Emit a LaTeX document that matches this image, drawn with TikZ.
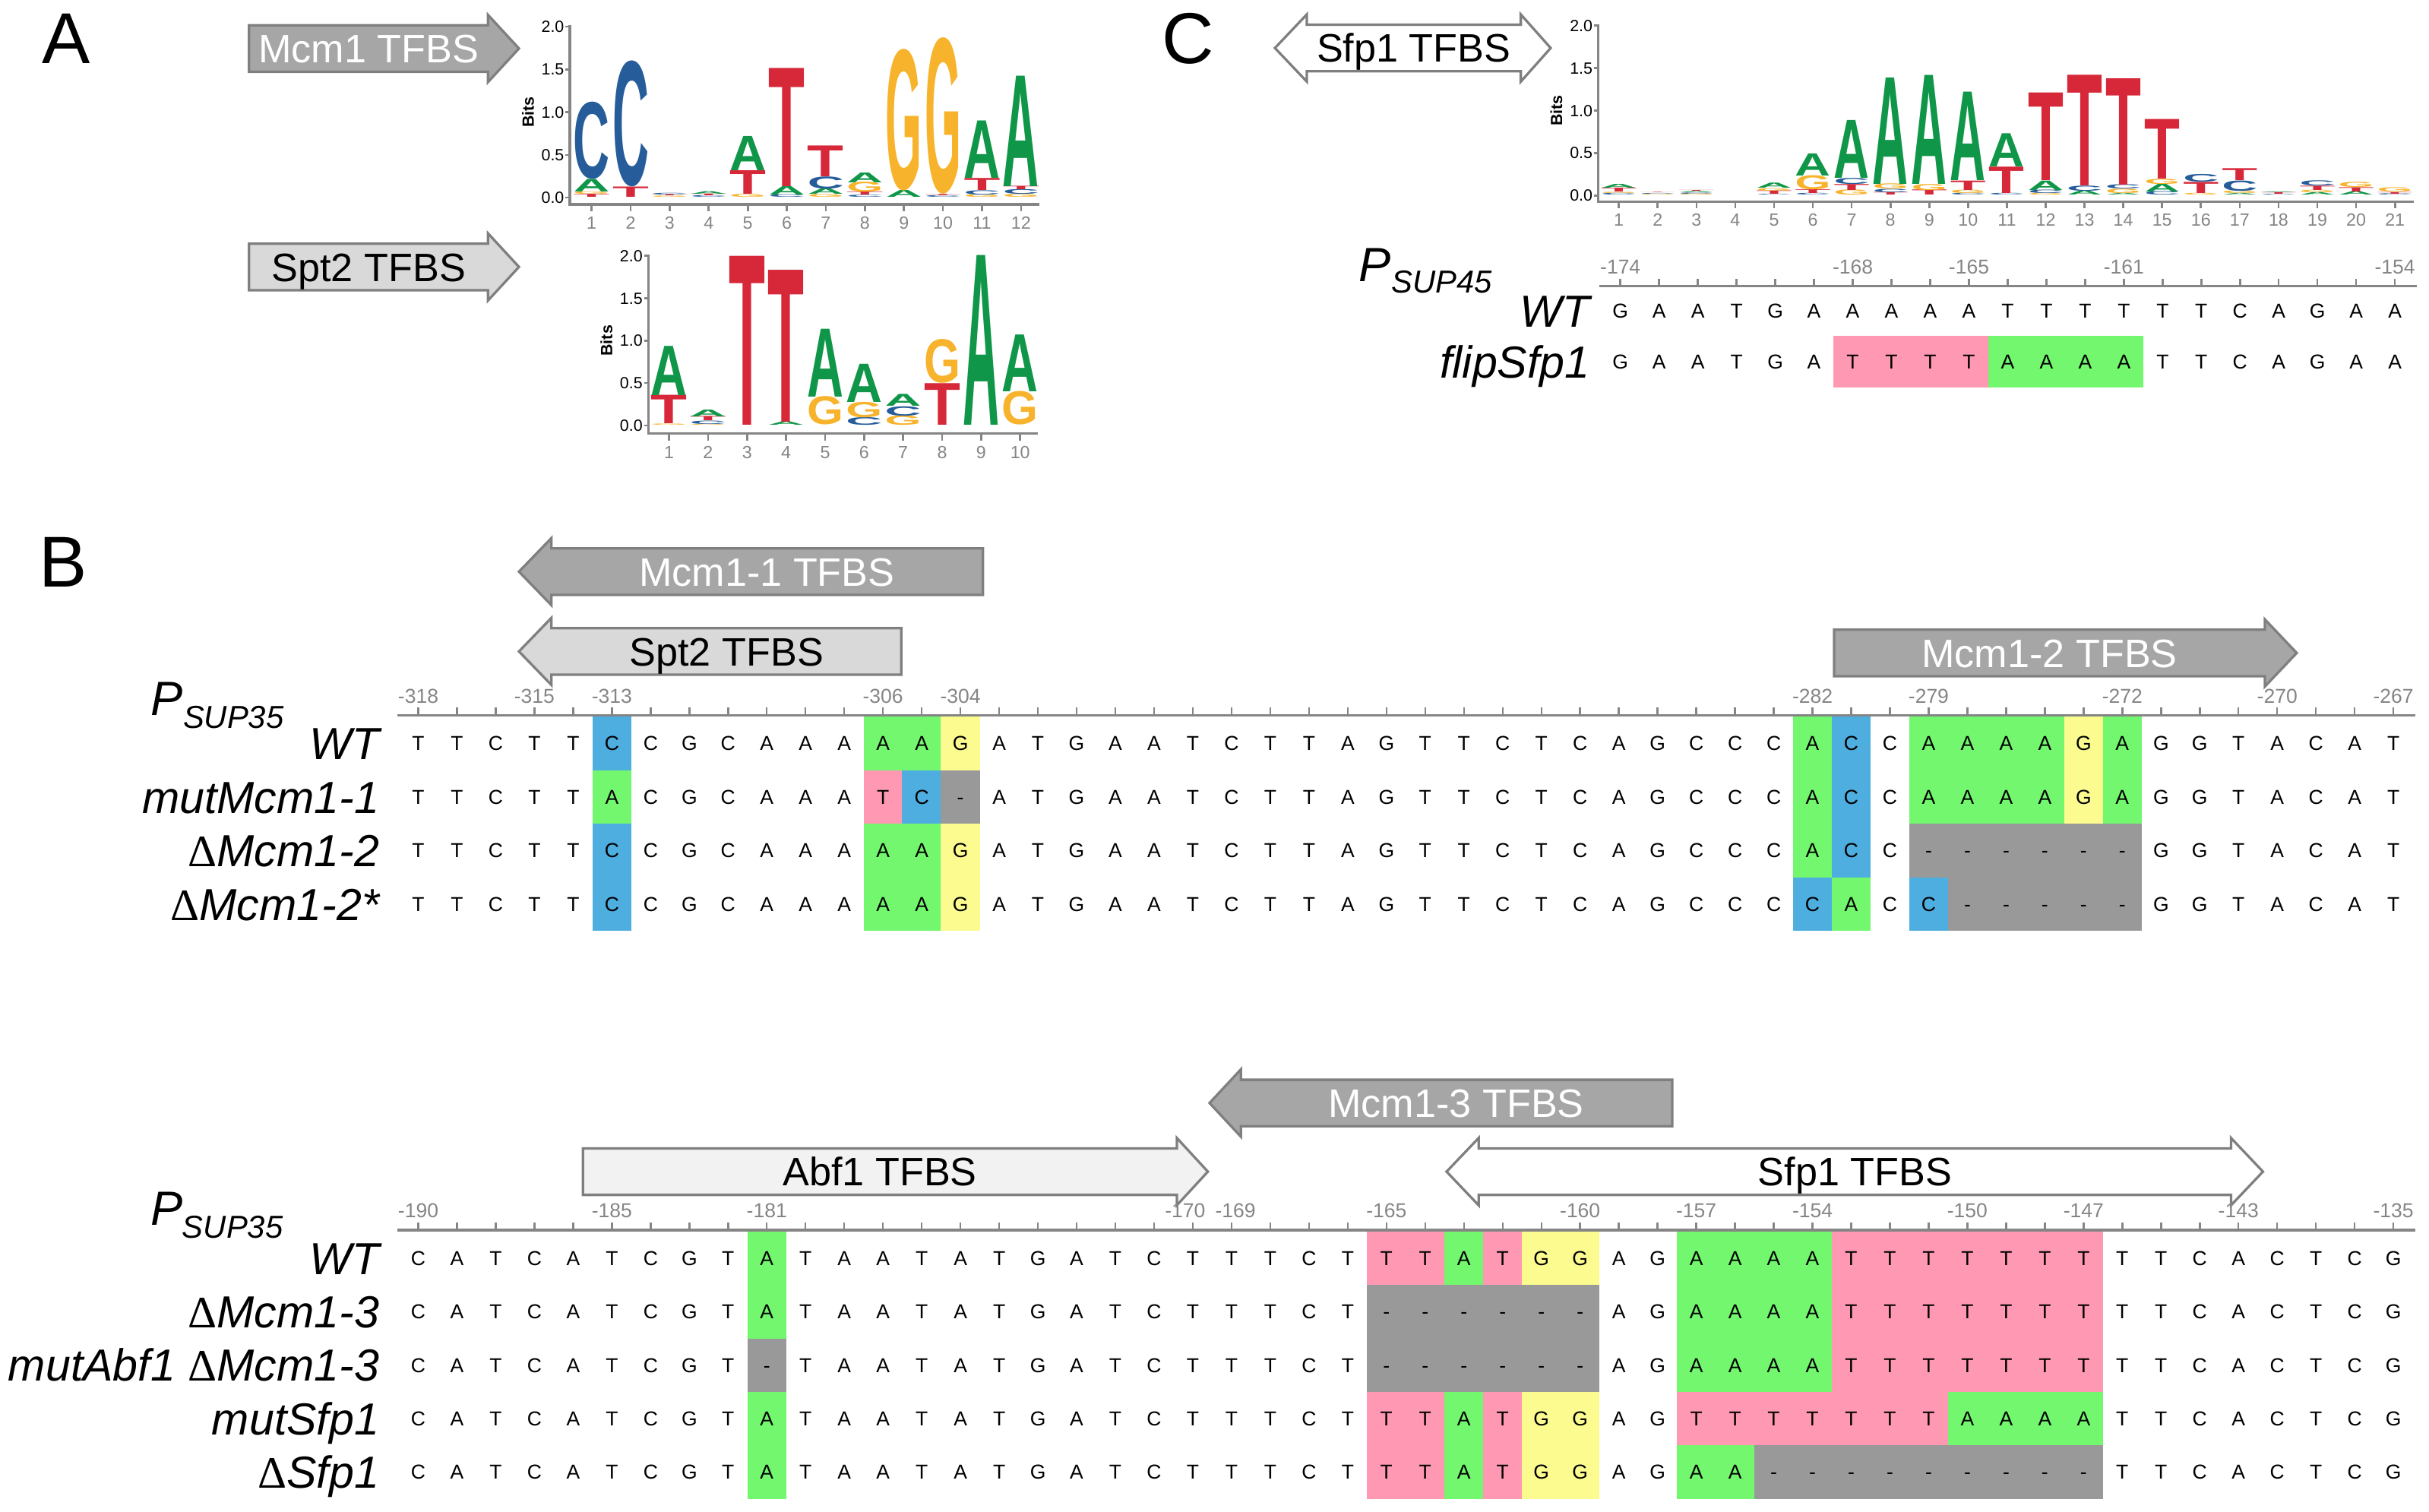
\documentclass[tikz,border=0pt]{standalone}
\usepackage{fontspec}
\setmainfont{Liberation Sans}
\newfontfamily\serifdelta{Liberation Serif}
\usepackage{graphicx}
\definecolor{lA}{HTML}{109648}
\definecolor{lC}{HTML}{255C99}
\definecolor{lG}{HTML}{F7B32B}
\definecolor{lT}{HTML}{D62839}
\definecolor{hg}{HTML}{72F76E}
\definecolor{hb}{HTML}{4FAEE0}
\definecolor{hy}{HTML}{FBFB8F}
\definecolor{hp}{HTML}{FF99B3}
\definecolor{hd}{HTML}{999999}
\definecolor{bdr}{HTML}{7F7F7F}
\definecolor{fdark}{HTML}{A6A6A6}
\definecolor{flight}{HTML}{D9D9D9}
\definecolor{fpale}{HTML}{F2F2F2}
\definecolor{rul}{HTML}{858585}
\tikzset{
 seq/.style={inner sep=0, font=\fontsize{13}{13}\selectfont, text height=9.3pt, text depth=0pt, anchor=center},
 ticklab/.style={inner sep=0, font=\fontsize{13}{13}\selectfont, text=rul, text height=9.3pt, text depth=0pt, anchor=center},
 rowlab/.style={inner sep=0, font=\fontsize{29}{29}\selectfont\itshape, anchor=base east},
 rulerline/.style={draw=rul, line width=1.6pt},
 rulertick/.style={draw=rul, line width=1.2pt},
 tfbs/.style={draw=bdr, line width=1.6pt, line join=miter},
 tfbstext/.style={inner sep=0, font=\fontsize{25.6}{25.6}\selectfont, anchor=base},
 panel/.style={inner sep=0, font=\fontsize{46.5}{46.5}\selectfont, anchor=base west},
 axisline/.style={draw=rul, line width=1.6pt},
 axistick/.style={draw=rul, line width=1.3pt},
 axnum/.style={inner sep=0, font=\fontsize{11.4}{11.4}\selectfont, text=rul, text height=8.2pt, text depth=0pt, anchor=center},
 bitnum/.style={inner sep=0, font=\fontsize{10.5}{10.5}\selectfont, text height=7.5pt, text depth=0pt, anchor=east},
 bitslab/.style={inner sep=0, font=\bfseries\fontsize{10.5}{10.5}\selectfont, rotate=90},
 plab/.style={inner sep=0, font=\fontsize{31}{31}\selectfont\itshape, anchor=base west},
 psub/.style={inner sep=0, font=\fontsize{20.5}{20.5}\selectfont\itshape, anchor=base west},
}
% sequence row: x0, y, list
\newcommand\seqrow[3]{\foreach \s [count=\i from 0] in {#3} {\node[seq] at (#1+25*\i,#2) {\s};}}
% highlight: colour, x0, ytop, ybot, from, to
\newcommand\hl[6]{\fill[#1] (#2+25*#5-12.6,#3) rectangle (#2+25*#6+12.6,#4);}
% ruler: x0, y, last index, labels i/text
\newcommand\ruler[4]{%
 \draw[rulerline] (#1-13.5,#2) -- (#1+25*#3+14,#2);
 \foreach \i in {0,...,#3} {\draw[rulertick] (#1+25*\i,#2) -- (#1+25*\i,#2-5);}
 \foreach \i/\lab in {#4} {\node[ticklab] at (#1+25*\i,#2-12.5) {\lab};}}
% single arrow: fill, x base, x inner, x tip, y centre
\newcommand\tfarrow[5]{\draw[tfbs, fill=#1] (#2,#5-15) -- (#3,#5-15) -- (#3,#5-21.7) -- (#4,#5) -- (#3,#5+21.7) -- (#3,#5+15) -- (#2,#5+15) -- cycle;}
% double arrow: fill, ltip, linner, rinner, rtip, y centre
\newcommand\dblarrow[6]{\draw[tfbs, fill=#1] (#2,#6) -- (#3,#6-21.7) -- (#3,#6-15) -- (#4,#6-15) -- (#4,#6-21.7) -- (#5,#6) -- (#4,#6+21.7) -- (#4,#6+15) -- (#3,#6+15) -- (#3,#6+21.7) -- cycle;}
% logo letters: x of pos1, spacing, y of 0 bits, px per bit, width, list p/L/a/b
\newcommand\logo[6]{\foreach \p/\L/\a/\b in {#6} {%
   \pgfmathsetmacro\lx{#1+#2*(\p-1)}%
   \pgfmathsetmacro\ly{#3-#4*\a}%
   \pgfmathsetmacro\lh{#4*(\b-\a)}%
   \node[inner sep=0, anchor=south, text=l\L] at (\lx,\ly) {\resizebox{#5pt}{\lh pt}{\bfseries\L}};}}
% logo axes: y-axis x, y of 0 bits, px per bit, x-axis y, x of pos1, spacing, n, x end
\newcommand\logoaxes[8]{%
 \draw[axisline] (#1,#2-2*#3-0.8) -- (#1,#4) -- (#8,#4);
 \foreach \v/\lab in {0/0.0,0.5/0.5,1/1.0,1.5/1.5,2/2.0} {%
   \draw[axistick] (#1,#2-\v*#3) -- (#1-2.8,#2-\v*#3);
   \node[bitnum] at (#1-3.5,#2-\v*#3) {\lab};}
 \node[bitslab] at (#1-27,#2-#3) {Bits};
 \foreach \k in {1,...,#7} {%
   \draw[axistick] (#5+#6*\k-#6,#4) -- (#5+#6*\k-#6,#4+4.5);
   \node[axnum] at (#5+#6*\k-#6,#4+11.8) {\k};}}
\begin{document}
\begin{tikzpicture}[x=1pt,y=-1pt]
\useasboundingbox (0,0) rectangle (1568,976);

% ---------------- panel labels
\node[panel] (labA) at (27,41) {A};
\node[panel] (labB) at (25,379) {B};
\node[panel] (labC) at (750,41) {C};

% ---------------- panel A
\tfarrow{fdark}{160.7}{315}{335}{31.3}
\node[tfbstext, text=white] (tA1) at (238,40.5) {Mcm1 TFBS};
\tfarrow{flight}{160.7}{315}{335}{172.3}
\node[tfbstext] (tA2) at (238,181.5) {Spt2 TFBS};

\logoaxes{367.8}{127.6}{55.25}{131.9}{381.9}{25.2}{12}{671}
\logo{381.9}{25.2}{127.6}{55.25}{23.5}{1/T/0/0.035, 1/G/0.035/0.063, 1/A/0.063/0.21, 1/C/0.21/1.1,
2/T/0/0.12, 2/C/0.12/1.57,
3/G/0/0.015, 3/T/0.015/0.03, 3/C/0.03/0.05,
4/C/0/0.02, 4/T/0.02/0.04, 4/A/0.04/0.07,
5/G/0/0.035, 5/T/0.035/0.31, 5/A/0.31/0.71,
6/C/0/0.03, 6/A/0.03/0.13, 6/T/0.13/1.51,
7/G/0/0.035, 7/A/0.035/0.1, 7/C/0.1/0.24, 7/T/0.24/0.6,
8/C/0/0.025, 8/T/0.025/0.06, 8/G/0.06/0.175, 8/A/0.175/0.29,
9/A/0/0.08, 9/G/0.08/1.71,
10/C/0/0.02, 10/T/0.02/0.035, 10/G/0.035/1.835,
11/G/0/0.03, 11/C/0.03/0.08, 11/T/0.08/0.22, 11/A/0.22/0.89,
12/G/0/0.035, 12/C/0.035/0.09, 12/T/0.09/0.13, 12/A/0.13/1.42}

\logoaxes{418.5}{274.6}{54.75}{279.9}{431.9}{25.18}{10}{670}
\logo{431.9}{25.18}{274.6}{54.75}{23.5}{1/G/0/0.015, 1/T/0.015/0.35, 1/A/0.35/0.93,
2/G/0/0.01, 2/C/0.01/0.05, 2/T/0.05/0.10, 2/A/0.10/0.18,
3/T/0/1.99,
4/A/0/0.04, 4/T/0.04/1.83,
5/G/0/0.33, 5/A/0.33/1.13,
6/C/0/0.09, 6/G/0.09/0.27, 6/A/0.27/0.72,
7/G/0/0.11, 7/C/0.11/0.22, 7/A/0.22/0.36,
8/T/0/0.49, 8/G/0.49/1.0,
9/A/0/2.0,
10/G/0/0.39, 10/A/0.39/1.06}

% ---------------- panel C
\dblarrow{white}{823}{843.6}{981.7}{1001}{31}
\node[tfbstext] (tC1) at (912.6,40.2) {Sfp1 TFBS};

\logoaxes{1031.7}{126.2}{54.9}{130.1}{1045}{25.05}{21}{1558}
\logo{1045}{25.05}{126.2}{54.9}{23}{1/C/0/0.02, 1/G/0.02/0.035, 1/T/0.035/0.08, 1/A/0.08/0.125,
2/G/0/0.01, 2/C/0.01/0.02, 2/T/0.02/0.025,
3/G/0/0.015, 3/C/0.015/0.03, 3/A/0.03/0.045, 3/T/0.045/0.055,
5/C/0/0.01, 5/T/0.01/0.05, 5/G/0.05/0.08, 5/A/0.08/0.14,
6/C/0/0.02, 6/T/0.02/0.065, 6/G/0.065/0.23, 6/A/0.23/0.49,
7/G/0/0.06, 7/T/0.06/0.13, 7/C/0.13/0.2, 7/A/0.2/0.88,
8/T/0/0.03, 8/C/0.03/0.07, 8/G/0.07/0.13, 8/A/0.13/1.38,
9/T/0/0.06, 9/G/0.06/0.13, 9/A/0.13/1.41,
10/C/0/0.02, 10/G/0.02/0.06, 10/T/0.06/0.17, 10/A/0.17/1.21,
11/C/0/0.02, 11/T/0.02/0.33, 11/A/0.33/0.72,
12/G/0/0.02, 12/C/0.02/0.06, 12/A/0.06/0.17, 12/T/0.17/1.2,
13/A/0/0.05, 13/C/0.05/0.11, 13/T/0.11/1.41,
14/A/0/0.02, 14/G/0.02/0.07, 14/C/0.07/0.12, 14/T/0.12/1.37,
15/C/0/0.04, 15/A/0.04/0.13, 15/G/0.13/0.19, 15/T/0.19/0.89,
16/G/0/0.02, 16/T/0.02/0.15, 16/C/0.15/0.24,
17/A/0/0.02, 17/G/0.02/0.05, 17/C/0.05/0.17, 17/T/0.17/0.31,
18/C/0/0.01, 18/T/0.01/0.03, 18/A/0.03/0.04,
19/A/0/0.03, 19/G/0.03/0.06, 19/T/0.06/0.11, 19/C/0.11/0.17,
20/A/0/0.04, 20/T/0.04/0.09, 20/G/0.09/0.15,
21/C/0/0.015, 21/T/0.015/0.035, 21/G/0.035/0.085}

\node[plab] (pC) at (877,181.5) {P};
\node[psub] (pCs) at (898,189) {SUP45};
\hl{hp}{1046}{217}{250}{6}{9}
\hl{hg}{1046}{217}{250}{10}{13}
\ruler{1046}{184.8}{20}{0/-174,6/-168,9/-165,13/-161,20/-154}
\node[rowlab] (rC1) at (1026.5,211.2) {WT};
\node[rowlab] (rC2) at (1026.5,243.9) {flipSfp1};
\seqrow{1046}{200.75}{G,A,A,T,G,A,A,A,A,A,T,T,T,T,T,T,C,A,G,A,A}
\seqrow{1046}{233.5}{G,A,A,T,G,A,T,T,T,T,A,A,A,A,T,T,C,A,G,A,A}

% ---------------- panel B top
\tfarrow{fdark}{634.5}{356}{335}{369}
\node[tfbstext, text=white] (tB1) at (495,378.2) {Mcm1-1 TFBS};
\tfarrow{flight}{581.8}{356}{335}{420.5}
\node[tfbstext] (tB2) at (469,429.7) {Spt2 TFBS};
\tfarrow{fdark}{1184}{1462}{1482.6}{421.5}
\node[tfbstext, text=white] (tB3) at (1323,430.7) {Mcm1-2 TFBS};

\node[plab] (pB1) at (97,462) {P};
\node[psub] (pB1s) at (118,470.3) {SUP35};

% highlights (row tops 462.5 + 34.6k)
\hl{hb}{270}{462.5}{497.1}{5}{5}
\hl{hg}{270}{462.5}{497.1}{12}{13}
\hl{hy}{270}{462.5}{497.1}{14}{14}
\hl{hg}{270}{462.5}{497.1}{36}{36}
\hl{hb}{270}{462.5}{497.1}{37}{37}
\hl{hg}{270}{462.5}{497.1}{39}{42}
\hl{hy}{270}{462.5}{497.1}{43}{43}
\hl{hg}{270}{462.5}{497.1}{44}{44}
\hl{hg}{270}{497.1}{531.7}{5}{5}
\hl{hp}{270}{497.1}{531.7}{12}{12}
\hl{hb}{270}{497.1}{531.7}{13}{13}
\hl{hd}{270}{497.1}{531.7}{14}{14}
\hl{hg}{270}{497.1}{531.7}{36}{36}
\hl{hb}{270}{497.1}{531.7}{37}{37}
\hl{hg}{270}{497.1}{531.7}{39}{42}
\hl{hy}{270}{497.1}{531.7}{43}{43}
\hl{hg}{270}{497.1}{531.7}{44}{44}
\hl{hb}{270}{531.7}{566.3}{5}{5}
\hl{hg}{270}{531.7}{566.3}{12}{13}
\hl{hy}{270}{531.7}{566.3}{14}{14}
\hl{hg}{270}{531.7}{566.3}{36}{36}
\hl{hb}{270}{531.7}{566.3}{37}{37}
\hl{hd}{270}{531.7}{566.3}{39}{44}
\hl{hb}{270}{566.3}{600.9}{5}{5}
\hl{hg}{270}{566.3}{600.9}{12}{13}
\hl{hy}{270}{566.3}{600.9}{14}{14}
\hl{hb}{270}{566.3}{600.9}{36}{36}
\hl{hg}{270}{566.3}{600.9}{37}{37}
\hl{hb}{270}{566.3}{600.9}{39}{39}
\hl{hd}{270}{566.3}{600.9}{40}{44}

\ruler{270}{461.8}{51}{0/-318,3/-315,5/-313,12/-306,14/-304,36/-282,39/-279,44/-272,48/-270,51/-267}

\node[rowlab] (rB1) at (245,490.2) {WT};
\node[rowlab] (rB2) at (245,524.8) {mutMcm1-1};
\node[rowlab] (rB3) at (245,559.4) {{\serifdelta\upshape Δ}Mcm1-2};
\node[rowlab] (rB4) at (245,594) {{\serifdelta\upshape Δ}Mcm1-2*};

\seqrow{270}{479.8}{T,T,C,T,T,C,C,G,C,A,A,A,A,A,G,A,T,G,A,A,T,C,T,T,A,G,T,T,C,T,C,A,G,C,C,C,A,C,C,A,A,A,A,G,A,G,G,T,A,C,A,T}
\seqrow{270}{514.4}{T,T,C,T,T,A,C,G,C,A,A,A,T,C,-,A,T,G,A,A,T,C,T,T,A,G,T,T,C,T,C,A,G,C,C,C,A,C,C,A,A,A,A,G,A,G,G,T,A,C,A,T}
\seqrow{270}{549}{T,T,C,T,T,C,C,G,C,A,A,A,A,A,G,A,T,G,A,A,T,C,T,T,A,G,T,T,C,T,C,A,G,C,C,C,A,C,C,-,-,-,-,-,-,G,G,T,A,C,A,T}
\seqrow{270}{583.6}{T,T,C,T,T,C,C,G,C,A,A,A,A,A,G,A,T,G,A,A,T,C,T,T,A,G,T,T,C,T,C,A,G,C,C,C,C,A,C,C,-,-,-,-,-,G,G,T,A,C,A,T}

% ---------------- panel B bottom
\tfarrow{fdark}{1079.5}{801}{780.8}{712}
\node[tfbstext, text=white] (tB4) at (940,721.2) {Mcm1-3 TFBS};
\tfarrow{fpale}{376.3}{759.7}{779.7}{756.3}
\node[tfbstext] (tB5) at (568,765.5) {Abf1 TFBS};
\dblarrow{white}{933.8}{954.5}{1440.2}{1460.8}{756.3}
\node[tfbstext] (tB6) at (1197.4,765.5) {Sfp1 TFBS};

\node[plab] (pB2) at (97,790.7) {P};
\node[psub] (pB2s) at (117.5,799) {SUP35};

% rows: tops 795 + 34.5k
\hl{hg}{270}{795}{829.5}{9}{9}
\hl{hp}{270}{795}{829.5}{25}{26}
\hl{hg}{270}{795}{829.5}{27}{27}
\hl{hp}{270}{795}{829.5}{28}{28}
\hl{hy}{270}{795}{829.5}{29}{30}
\hl{hg}{270}{795}{829.5}{33}{36}
\hl{hp}{270}{795}{829.5}{37}{43}
\hl{hg}{270}{829.5}{864}{9}{9}
\hl{hd}{270}{829.5}{864}{25}{30}
\hl{hg}{270}{829.5}{864}{33}{36}
\hl{hp}{270}{829.5}{864}{37}{43}
\hl{hd}{270}{864}{898.5}{9}{9}
\hl{hd}{270}{864}{898.5}{25}{30}
\hl{hg}{270}{864}{898.5}{33}{36}
\hl{hp}{270}{864}{898.5}{37}{43}
\hl{hg}{270}{898.5}{933}{9}{9}
\hl{hp}{270}{898.5}{933}{25}{26}
\hl{hg}{270}{898.5}{933}{27}{27}
\hl{hp}{270}{898.5}{933}{28}{28}
\hl{hy}{270}{898.5}{933}{29}{30}
\hl{hp}{270}{898.5}{933}{33}{39}
\hl{hg}{270}{898.5}{933}{40}{43}
\hl{hg}{270}{933}{967.5}{9}{9}
\hl{hp}{270}{933}{967.5}{25}{26}
\hl{hg}{270}{933}{967.5}{27}{27}
\hl{hp}{270}{933}{967.5}{28}{28}
\hl{hy}{270}{933}{967.5}{29}{30}
\hl{hg}{270}{933}{967.5}{33}{34}
\hl{hd}{270}{933}{967.5}{35}{43}

\ruler{270}{794}{51}{0/-190,5/-185,9/-181,19.8/-170,21.1/-169,25/-165,30/-160,33/-157,36/-154,40/-150,43/-147,47/-143,51/-135}

\node[rowlab] (rB5) at (245,822.6) {WT};
\node[rowlab] (rB6) at (245,857.1) {{\serifdelta\upshape Δ}Mcm1-3};
\node[rowlab] (rB7) at (245,891.6) {mutAbf1 {\serifdelta\upshape Δ}Mcm1-3};
\node[rowlab] (rB8) at (245,926.1) {mutSfp1};
\node[rowlab] (rB9) at (245,960.6) {{\serifdelta\upshape Δ}Sfp1};

\seqrow{270}{812.25}{C,A,T,C,A,T,C,G,T,A,T,A,A,T,A,T,G,A,T,C,T,T,T,C,T,T,T,A,T,G,G,A,G,A,A,A,A,T,T,T,T,T,T,T,T,T,C,A,C,T,C,G}
\seqrow{270}{846.75}{C,A,T,C,A,T,C,G,T,A,T,A,A,T,A,T,G,A,T,C,T,T,T,C,T,-,-,-,-,-,-,A,G,A,A,A,A,T,T,T,T,T,T,T,T,T,C,A,C,T,C,G}
\seqrow{270}{881.25}{C,A,T,C,A,T,C,G,T,-,T,A,A,T,A,T,G,A,T,C,T,T,T,C,T,-,-,-,-,-,-,A,G,A,A,A,A,T,T,T,T,T,T,T,T,T,C,A,C,T,C,G}
\seqrow{270}{915.75}{C,A,T,C,A,T,C,G,T,A,T,A,A,T,A,T,G,A,T,C,T,T,T,C,T,T,T,A,T,G,G,A,G,T,T,T,T,T,T,T,A,A,A,A,T,T,C,A,C,T,C,G}
\seqrow{270}{950.25}{C,A,T,C,A,T,C,G,T,A,T,A,A,T,A,T,G,A,T,C,T,T,T,C,T,T,T,A,T,G,G,A,G,A,A,-,-,-,-,-,-,-,-,-,T,T,C,A,C,T,C,G}

\end{tikzpicture}
\end{document}
